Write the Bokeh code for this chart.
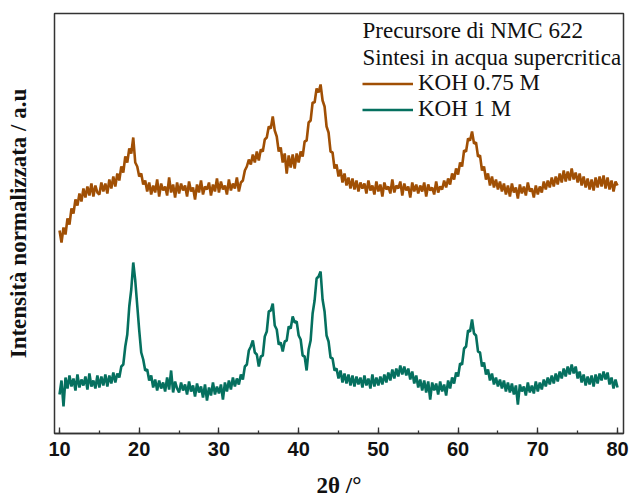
import numpy as np
from bokeh.plotting import figure
from bokeh.models import Range1d, SingleIntervalTicker, FixedTicker, Label, Legend, LegendItem
from bokeh.embed import file_html
from bokeh.resources import INLINE

# 2theta sampling grid (degrees), 0.25 deg steps from 10 to 80
two_theta = np.arange(10.0, 80.001, 0.25)

# Normalized intensity (a.u.), KOH 0.75 M (offset trace)
koh_075 = [
    202, 190, 205, 198, 214, 208, 224, 219, 233, 227, 239, 231, 244, 235, 246, 237, 249, 236, 247, 240,
    238, 250, 241, 249, 239, 253, 244, 256, 246, 259, 252, 266, 260, 276, 270, 284, 279, 295, 270, 266,
    256, 259, 248, 252, 241, 250, 238, 247, 240, 253, 236, 249, 242, 246, 237, 255, 240, 248, 235, 250,
    239, 249, 242, 247, 236, 251, 241, 245, 233, 248, 240, 252, 238, 246, 243, 250, 237, 248, 241, 254,
    240, 251, 243, 247, 238, 253, 242, 249, 244, 255, 241, 250, 252, 262, 266, 273, 268, 278, 270, 281,
    272, 283, 281, 293, 295, 306, 304, 316, 302, 296, 281, 285, 270, 279, 259, 277, 265, 278, 264, 279,
    270, 281, 276, 291, 292, 310, 312, 330, 330, 344, 340, 348, 332, 326, 306, 300, 281, 280, 264, 268,
    256, 263, 250, 259, 247, 255, 244, 254, 243, 252, 241, 250, 244, 249, 239, 252, 242, 247, 238, 251,
    241, 248, 236, 250, 243, 246, 239, 253, 240, 247, 244, 251, 237, 249, 242, 246, 235, 250, 241, 248,
    239, 247, 241, 250, 236, 248, 242, 245, 238, 251, 240, 246, 243, 252, 245, 254, 248, 259, 253, 264,
    258, 270, 266, 282, 281, 294, 292, 301, 289, 290, 276, 277, 262, 266, 253, 259, 247, 256, 245, 253,
    243, 251, 241, 249, 238, 247, 236, 249, 240, 245, 234, 248, 239, 246, 237, 250, 241, 244, 235, 247,
    238, 246, 240, 251, 243, 252, 245, 255, 246, 256, 248, 259, 250, 262, 251, 261, 252, 264, 253, 260,
    250, 259, 247, 256, 245, 254, 243, 253, 242, 255, 245, 256, 246, 257, 244, 255, 243, 252, 241, 251,
    247,
]

# Normalized intensity (a.u.), KOH 1 M
koh_1 = [
    38, 52, 26, 55, 44, 57, 46, 54, 42, 58, 45, 53, 47, 56, 43, 59, 46, 52, 44, 57,
    45, 56, 47, 58, 46, 57, 49, 60, 50, 59, 55, 66, 68, 86, 98, 126, 143, 170, 152, 127,
    102, 80, 73, 62, 63, 52, 57, 45, 53, 42, 52, 44, 50, 41, 55, 43, 62, 40, 51, 44,
    40, 50, 42, 48, 38, 51, 41, 47, 36, 49, 40, 46, 35, 48, 32, 45, 37, 50, 38, 46,
    39, 48, 33, 50, 41, 52, 43, 55, 46, 54, 48, 58, 53, 66, 68, 82, 86, 92, 80, 78,
    66, 76, 77, 96, 101, 121, 122, 129, 107, 103, 88, 90, 81, 91, 92, 106, 104, 116, 110, 111,
    97, 93, 77, 76, 62, 83, 92, 119, 132, 154, 156, 161, 133, 121, 97, 91, 75, 74, 62, 64,
    54, 62, 50, 59, 49, 58, 47, 57, 46, 56, 48, 55, 45, 57, 47, 54, 44, 58, 46, 55,
    47, 56, 48, 58, 50, 60, 52, 63, 54, 64, 56, 67, 58, 66, 57, 64, 53, 61, 49, 57,
    45, 53, 42, 52, 40, 51, 33, 50, 42, 49, 38, 51, 41, 48, 37, 52, 44, 55, 49, 60,
    56, 69, 68, 84, 86, 102, 101, 113, 99, 97, 81, 80, 66, 70, 58, 63, 52, 59, 48, 55,
    46, 53, 44, 52, 41, 50, 40, 49, 38, 47, 28, 48, 41, 46, 37, 50, 40, 47, 39, 51,
    41, 50, 43, 53, 46, 55, 48, 57, 49, 59, 51, 61, 54, 64, 56, 66, 58, 68, 59, 66,
    54, 61, 50, 58, 47, 56, 48, 57, 46, 58, 49, 59, 52, 61, 53, 60, 48, 55, 44, 53,
    45,
]

series_names = ["KOH 0.75 M", "KOH 1 M"]
series_colors = ["#A04F04", "#05705F"]
title_lines = ["Precursore di NMC 622", "Sintesi in acqua supercritica"]

p = figure(width=629, height=500, output_backend="svg", toolbar_location=None,
           x_range=Range1d(9.37, 80.75), y_range=Range1d(-1, 419),
           min_border_left=54, min_border_right=6, min_border_top=13, min_border_bottom=67)
p.background_fill_color = "white"
p.border_fill_color = "white"
p.outline_line_color = "#333333"
p.outline_line_width = 1.5
p.xgrid.visible = False
p.ygrid.visible = False

r1 = p.line(two_theta, koh_075, line_color=series_colors[0], line_width=2.6)
r2 = p.line(two_theta, koh_1, line_color=series_colors[1], line_width=2.6)

xa = p.xaxis[0]
xa.ticker = SingleIntervalTicker(interval=10, num_minor_ticks=2)
xa.major_tick_in = 6
xa.major_tick_out = 0
xa.minor_tick_in = 3
xa.minor_tick_out = 0
xa.major_tick_line_color = "#333333"
xa.minor_tick_line_color = "#333333"
xa.major_tick_line_width = 1.3
xa.minor_tick_line_width = 1.3
xa.axis_line_color = "#333333"
xa.axis_line_width = 1.5
xa.major_label_text_font = "Liberation Sans"
xa.major_label_text_font_style = "bold"
xa.major_label_text_font_size = "20px"
xa.major_label_text_color = "#111111"
xa.major_label_standoff = 8
xa.axis_label = "2θ /°"
xa.axis_label_text_font = "Liberation Serif"
xa.axis_label_text_font_style = "bold"
xa.axis_label_text_font_size = "23px"
xa.axis_label_text_color = "#111111"
xa.axis_label_standoff = 14

ya = p.yaxis[0]
ya.ticker = FixedTicker(ticks=[])
ya.major_tick_in = 0
ya.major_tick_out = 0
ya.minor_tick_in = 0
ya.minor_tick_out = 0
ya.major_label_text_font_size = "0px"
ya.axis_line_color = None
ya.axis_label = "Intensità normalizzata / a.u"
ya.axis_label_text_font = "Liberation Serif"
ya.axis_label_text_font_style = "bold"
ya.axis_label_text_font_size = "23px"
ya.axis_label_text_color = "#111111"
ya.axis_label_standoff = 24

for i, t in enumerate(title_lines):
    p.add_layout(Label(x=308, y=403 - 27 * i, x_units="screen", y_units="screen", text=t,
                       text_font="Liberation Serif", text_font_size="23px",
                       text_color="#111111", text_baseline="middle", text_align="left"))

legend = Legend(items=[LegendItem(label=series_names[0], renderers=[r1]),
                       LegendItem(label=series_names[1], renderers=[r2])],
                location=(308, 311), padding=0, spacing=-1, margin=0,
                border_line_color=None, background_fill_alpha=0,
                glyph_width=51, glyph_height=25, label_height=25, label_standoff=5,
                label_text_font="Liberation Serif", label_text_font_size="23px",
                label_text_color="#111111")
p.add_layout(legend)

open("out.html", "w").write(file_html(p, INLINE))
